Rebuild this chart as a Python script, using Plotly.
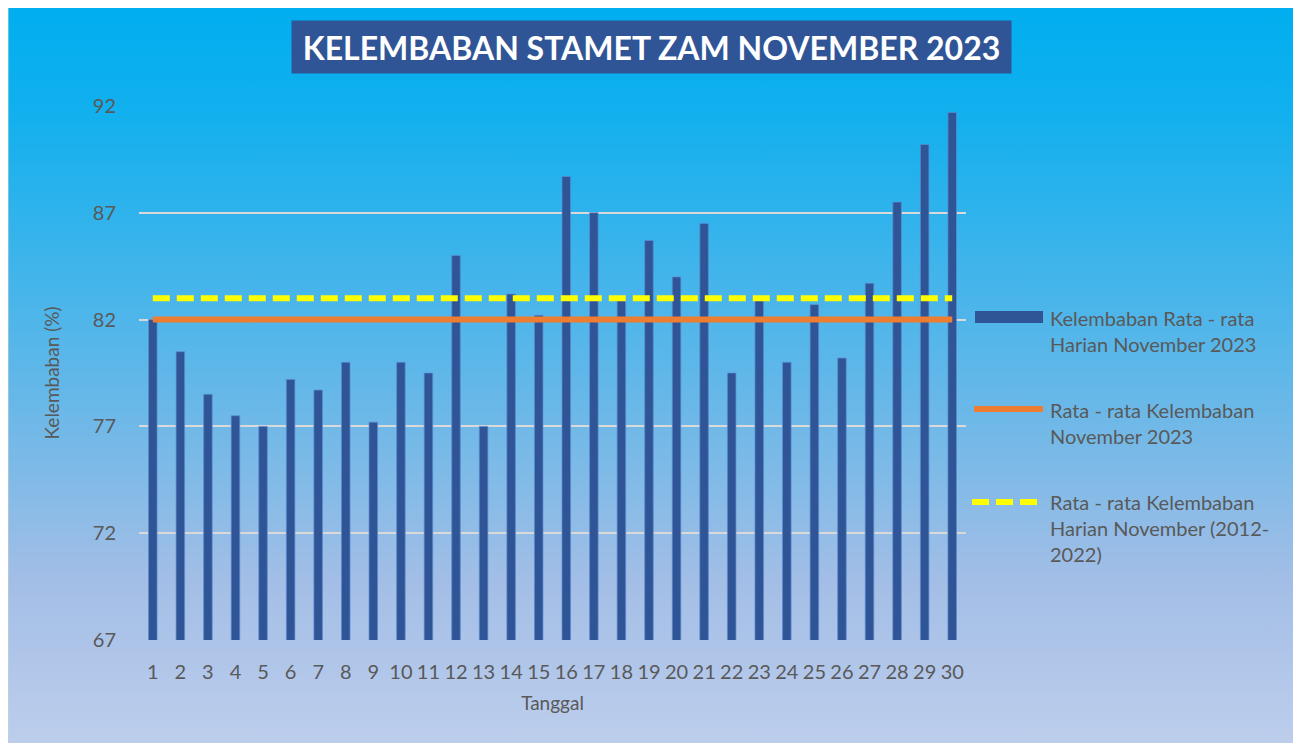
import base64
import plotly.graph_objects as go

# data
tanggal = list(range(1, 31))
kelembaban_harian = [82.0, 80.5, 78.5, 77.5, 77.0, 79.2, 78.7, 80.0, 77.2, 80.0,
                     79.5, 85.0, 77.0, 83.2, 82.2, 88.7, 87.0, 83.0, 85.7, 84.0,
                     86.5, 79.5, 83.0, 80.0, 82.7, 80.2, 83.7, 87.5, 90.2, 91.7]
rata_nov_2023 = [82.0] * 30
rata_nov_2012_2022 = [83.0] * 30
y_ticks = [67, 72, 77, 82, 87, 92]

judul = "KELEMBABAN STAMET ZAM NOVEMBER 2023"
legend_items = [
    ["Kelembaban Rata - rata", "Harian November 2023"],
    ["Rata - rata Kelembaban", "November 2023"],
    ["Rata - rata Kelembaban", "Harian November (2012-", "2022)"],
]

# page layout in pixels (body margin of 8px is taken off)
OFF = 8
W, H = 1301, 743
L, R, T, B = 139, 966, 106, 640
pw, ph = R - L, B - T
FONT = "Lato"
GREY = "#595959"


def px_x(x):
    return (x - L) / pw


def px_y(y):
    return (B - y) / ph


fig = go.Figure()

fig.add_trace(go.Bar(
    x=tanggal, y=kelembaban_harian, width=0.31,
    marker=dict(color="#2F5597", line=dict(color="rgba(91,140,210,0.7)", width=1)),
    showlegend=False,
))
fig.add_trace(go.Scatter(
    x=tanggal, y=rata_nov_2023, mode="lines",
    line=dict(color="#ED7D31", width=6), showlegend=False,
))
fig.add_trace(go.Scatter(
    x=tanggal, y=rata_nov_2012_2022, mode="lines",
    line=dict(color="#FFFF00", width=6, dash="17px,7px"), showlegend=False,
))

# background gradient as an svg image
svg = ('<svg xmlns="http://www.w3.org/2000/svg" width="100" height="100" preserveAspectRatio="none">'
       '<defs><linearGradient id="g" x1="0" y1="0" x2="0" y2="1">'
       '<stop offset="0" stop-color="#00AEEF"/>'
       '<stop offset="0.15" stop-color="#12B0EE"/>'
       '<stop offset="0.55" stop-color="#6BB8E8"/>'
       '<stop offset="0.78" stop-color="#A3BEE6"/>'
       '<stop offset="1" stop-color="#BDCEEC"/>'
       '</linearGradient></defs>'
       '<rect width="100" height="100" fill="url(#g)"/></svg>')
src = "data:image/svg+xml;base64," + base64.b64encode(svg.encode()).decode()
fig.add_layout_image(dict(
    source=src, xref="paper", yref="paper",
    x=px_x(8), y=px_y(4), sizex=px_x(1296) - px_x(8), sizey=px_y(4) - px_y(745),
    xanchor="left", yanchor="top", sizing="stretch", layer="below",
))
fig.add_shape(type="rect", xref="paper", yref="paper",
              x0=px_x(8), x1=px_x(1296), y0=px_y(745), y1=px_y(4),
              line=dict(color="#D0D0D0", width=1), layer="below")

# title box
fig.add_annotation(
    text="<b>" + judul + "</b>", xref="paper", yref="paper",
    x=px_x(651), y=px_y(47), xanchor="center", yanchor="middle",
    showarrow=False, bgcolor="#2F5597", width=717, height=50,
    font=dict(family=FONT, size=32, color="white"),
)

# legend drawn by hand
fig.add_shape(type="rect", xref="paper", yref="paper",
              x0=px_x(975), x1=px_x(1043), y0=px_y(323), y1=px_y(311),
              fillcolor="#2F5597", line=dict(width=0))
fig.add_shape(type="line", xref="paper", yref="paper",
              x0=px_x(974), x1=px_x(1043), y0=px_y(409), y1=px_y(409),
              line=dict(color="#ED7D31", width=6))
fig.add_shape(type="line", xref="paper", yref="paper",
              x0=px_x(972), x1=px_x(1038), y0=px_y(502), y1=px_y(502),
              line=dict(color="#FFFF00", width=6, dash="17px,7px"))

line_y = [[318, 344], [410, 436], [502, 528, 554]]
for lines, ys in zip(legend_items, line_y):
    for txt, yy in zip(lines, ys):
        fig.add_annotation(
            text=txt, xref="paper", yref="paper", x=px_x(1048), y=px_y(yy),
            xanchor="left", yanchor="middle", showarrow=False,
            font=dict(family=FONT, size=20, color=GREY),
        )

fig.update_layout(
    width=W - OFF, height=H - OFF,
    margin=dict(l=L - OFF, r=W - R, t=T - OFF, b=H - B, pad=0),
    paper_bgcolor="white", plot_bgcolor="rgba(0,0,0,0)",
    font=dict(family=FONT, color=GREY),
    xaxis=dict(
        range=[0.5, 30.5], tickvals=tanggal, ticktext=[str(t) for t in tanggal],
        showgrid=False, zeroline=False, showline=False, ticks="",
        tickfont=dict(size=20, color=GREY), ticklabelstandoff=18,
        title=dict(text="Tanggal", font=dict(size=19, color=GREY), standoff=14),
    ),
    yaxis=dict(
        range=[67, 92], tickvals=y_ticks, showgrid=True, gridcolor="#D9D9D9",
        gridwidth=1.5, zeroline=False, showline=False, ticks="",
        tickfont=dict(size=20, color=GREY), ticklabelstandoff=22,
        title=dict(text="Kelembaban (%)", font=dict(size=19, color=GREY), standoff=28),
    ),
)

fig.write_html("out.html")
